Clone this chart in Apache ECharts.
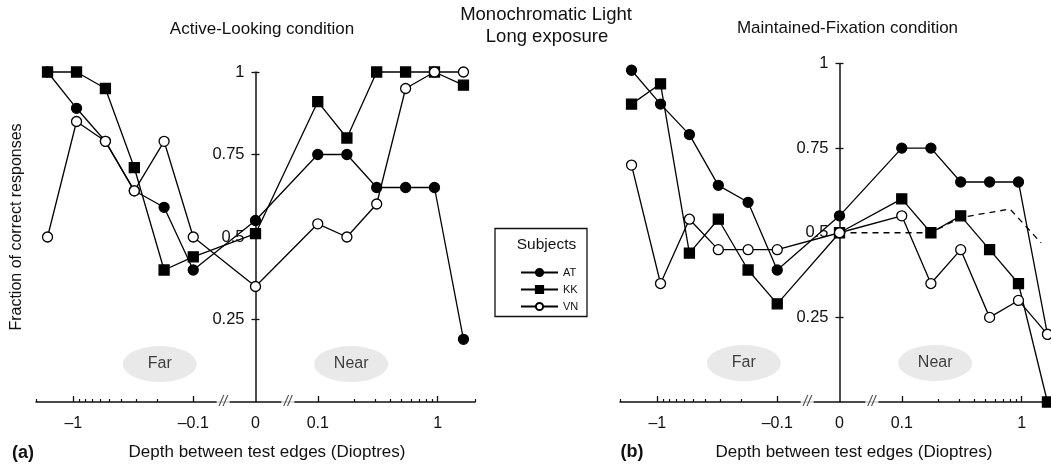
<!DOCTYPE html>
<html><head><meta charset="utf-8">
<script src="https://cdn.jsdelivr.net/npm/echarts@6/dist/echarts.min.js"></script>
<style>html,body{margin:0;padding:0;background:#fff}#c{width:1051px;height:466px}</style>
</head><body><div id="c"></div>
<script>
// ---------- data ----------
const DEPTHS = [-1.64, -0.94, -0.54, -0.31, -0.175, -0.1, 0, 0.1, 0.175, 0.31, 0.54, 0.94, 1.64];
const SUBJECTS = ['AT', 'KK', 'VN'];

const ACTIVE_AT = [1.00, 0.89, 0.79, 0.64, 0.59, 0.40, 0.55, 0.75, 0.75, 0.65, 0.65, 0.65, 0.19];
const ACTIVE_KK = [1.00, 1.00, 0.95, 0.71, 0.40, 0.44, 0.51, 0.91, 0.80, 1.00, 1.00, 1.00, 0.96];
const ACTIVE_VN = [0.50, 0.85, 0.79, 0.64, 0.79, 0.50, 0.35, 0.54, 0.50, 0.60, 0.95, 1.00, 1.00];

const FIXATION_AT = [0.98, 0.88, 0.79, 0.64, 0.59, 0.39, 0.55, 0.75, 0.75, 0.65, 0.65, 0.65, 0.20];
const FIXATION_KK = [0.88, 0.94, 0.44, 0.54, 0.39, 0.29, 0.50, 0.60, 0.50, 0.55, 0.45, 0.35, 0.00];
const FIXATION_VN = [0.70, 0.35, 0.54, 0.45, 0.45, 0.45, 0.50, 0.55, 0.35, 0.45, 0.25, 0.30, 0.20];

const DASHED_DEPTHS = [0, 0.175, 0.31, 0.8, 1.45];
const DASHED_FIXATION = [0.50, 0.50, 0.545, 0.57, 0.47];

const X_TICK_VALUES = [-1, -0.1, 0, 0.1, 1];
const X_TICK_LABELS = ['\u20131', '\u20130.1', '0', '0.1', '1'];
const X_MINOR_VALUES = [-0.9, -0.8, -0.7, -0.6, -0.5, -0.4, -0.3, -0.2, 0.2, 0.3, 0.4, 0.5, 0.6, 0.7, 0.8, 0.9];
const Y_TICK_VALUES = [0.25, 0.5, 0.75, 1];
const Y_TICK_LABELS = ['0.25', '0.5', '0.75', '1'];

const REGION_LABELS = ['Far', 'Near'];
const REGION_DEPTHS = [-0.19, 0.19];
const REGION_LEVEL = 0.115;

// ---------- axis transform: log decades with a break between 0 and ±0.1 ----------
const LIN_GAP = 0.519;           // drawn distance (in decades) between 0 and 0.1
const BREAK_FRACTION = 0.52;     // where the // mark sits between 0 and ±0.1
const T_MIN = -1.83, T_MAX = 1.83;
function tx(d) {
  if (d === 0) return 0;
  const s = Math.sign(d);
  return s * (LIN_GAP + Math.log10(Math.abs(d) / 0.1));
}
const labelMap = {};
X_TICK_VALUES.forEach((v, i) => { labelMap[tx(v).toFixed(4)] = X_TICK_LABELS[i]; });
const yLabelMap = {};
Y_TICK_VALUES.forEach((v, i) => { yLabelMap[v.toFixed(4)] = Y_TICK_LABELS[i]; });

const FONT = '"Liberation Sans", Arial, Helvetica, sans-serif';
const INK = '#111';

const GRIDS = [
  { left: 36, top: 72, width: 439, height: 330 },
  { left: 620, top: 63.5, width: 439, height: 338.5 }
];
// the vertical axis sits at depth 0, i.e. this far inside each grid
const Y_AXIS_INSET = GRIDS.map(g => g.width * (0 - T_MIN) / (T_MAX - T_MIN));

const xAxes = [], yAxes = [], series = [];
const PANELS = [
  { sets: [ACTIVE_AT, ACTIVE_KK, ACTIVE_VN] },
  { sets: [FIXATION_AT, FIXATION_KK, FIXATION_VN] }
];

const SYM = [
  { symbol: 'circle', size: 10, fill: '#000' },
  { symbol: 'rect', size: 10, fill: '#000' },
  { symbol: 'circle', size: 10, fill: '#fff' }
];

PANELS.forEach((p, pi) => {
  const xi = pi * 2, yi = pi * 2;
  xAxes.push({
    type: 'value', gridIndex: pi, min: T_MIN, max: T_MAX, position: 'bottom',
    axisLine: { onZero: false, lineStyle: { color: INK, width: 1.5 } },
    splitLine: { show: false },
    axisTick: { inside: true, length: 6, customValues: X_TICK_VALUES.filter(v => v !== 0).map(tx), lineStyle: { color: INK, width: 1.3 } },
    axisLabel: { customValues: X_TICK_VALUES.map(tx), formatter: v => labelMap[v.toFixed(4)] || '', fontSize: 16, fontFamily: FONT, color: INK, margin: 14 }
  });
  xAxes.push({
    type: 'value', gridIndex: pi, min: T_MIN, max: T_MAX, position: 'bottom',
    axisLine: { show: false, onZero: false },
    splitLine: { show: false },
    axisTick: { inside: true, length: 3, customValues: [T_MIN].concat(X_MINOR_VALUES.map(tx), [T_MAX]), lineStyle: { color: INK, width: 1.2 } },
    axisLabel: { show: false }
  });
  yAxes.push({
    type: 'value', gridIndex: pi, min: 0, max: 1, position: 'left', offset: -Y_AXIS_INSET[pi],
    axisLine: { onZero: false, lineStyle: { color: INK, width: 1.5 } },
    splitLine: { show: false },
    axisTick: { length: 4, customValues: Y_TICK_VALUES, lineStyle: { color: INK, width: 1.3 } },
    axisLabel: { customValues: Y_TICK_VALUES, formatter: v => yLabelMap[v.toFixed(4)] || '', fontSize: 16.5, fontFamily: FONT, color: INK, margin: 11 }
  });
  yAxes.push({
    type: 'value', gridIndex: pi, min: 0, max: 1, position: 'right', offset: -(GRIDS[pi].width - Y_AXIS_INSET[pi]),
    axisLine: { show: false, onZero: false },
    splitLine: { show: false },
    axisTick: { length: 4, customValues: Y_TICK_VALUES, lineStyle: { color: INK, width: 1.3 } },
    axisLabel: { show: false }
  });

  // Far / Near ellipses
  series.push({
    type: 'scatter', xAxisIndex: xi, yAxisIndex: yi, silent: true, z: 1,
    symbol: 'circle', symbolSize: [74, 36],
    itemStyle: { color: '#e3e3e3' },
    label: { show: true, position: 'inside', formatter: p => p.name, fontSize: 16, fontFamily: FONT, color: INK },
    data: REGION_DEPTHS.map((d, i) => ({ name: REGION_LABELS[i], value: [tx(d), REGION_LEVEL] }))
  });
  // axis break marks
  series.push({
    type: 'scatter', xAxisIndex: xi, yAxisIndex: yi, silent: true, z: 6,
    symbol: 'rect', symbolSize: [13, 8], clip: false,
    itemStyle: { color: '#fff' },
    label: { show: true, position: 'inside', formatter: '//', fontSize: 14, fontStyle: 'italic', fontFamily: FONT, color: INK },
    data: [[-LIN_GAP * BREAK_FRACTION, 0], [LIN_GAP * BREAK_FRACTION, 0]]
  });

  p.sets.forEach((vals, si) => {
    const s = SYM[si];
    series.push({
      name: SUBJECTS[si], type: 'line', xAxisIndex: xi, yAxisIndex: yi, z: 3 + si,
      clip: false, animation: false,
      symbol: s.symbol, symbolSize: s.size, showSymbol: true,
      lineStyle: { color: '#000', width: 1.3 },
      itemStyle: { color: s.fill, borderColor: '#000', borderWidth: 1.3 },
      data: DEPTHS.map((d, i) => [tx(d), vals[i]])
    });
  });
});

series.push({
  type: 'line', xAxisIndex: 2, yAxisIndex: 2, z: 2, symbol: 'none', clip: false,
  lineStyle: { color: '#000', width: 1.3, type: [6, 5] },
  data: DASHED_DEPTHS.map((d, i) => [tx(d), DASHED_FIXATION[i]])
});

const txt = (text, x, y, size, extra) => Object.assign({
  type: 'text', x, y, silent: true,
  style: Object.assign({ text, fill: INK, font: size + 'px ' + FONT, textAlign: 'center', textVerticalAlign: 'middle', align: 'center', verticalAlign: 'middle' }, (extra && extra.style) || {})
}, extra && extra.rotation !== undefined ? { rotation: extra.rotation } : {});

const option = {
  animation: false,
  backgroundColor: '#fff',
  grid: GRIDS.map(g => Object.assign({ outerBoundsMode: 'none', containLabel: false }, g)),
  xAxis: xAxes,
  yAxis: yAxes,
  series,
  legend: {
    data: SUBJECTS, orient: 'vertical', left: 520, top: 267, padding: 0,
    itemWidth: 37, itemHeight: 9, itemGap: 6, selectedMode: false,
    textStyle: { fontSize: 11, fontFamily: FONT, color: INK }
  },
  graphic: [
    txt('Active-Looking condition', 262, 29, 17),
    txt('Maintained-Fixation condition', 847.5, 28.5, 17),
    txt('Monochromatic Light', 546, 15, 18.5),
    txt('Long exposure', 547, 36.5, 18.5),
    txt('Depth between test edges (Dioptres)', 267, 452, 17),
    txt('Depth between test edges (Dioptres)', 854, 452, 17),
    txt('(a)', 23, 453, 18, { style: { font: 'bold 18px ' + FONT } }),
    txt('(b)', 632, 452, 18, { style: { font: 'bold 18px ' + FONT } }),
    txt('Fraction of correct responses', 17, 227, 16, { rotation: Math.PI / 2 }),
    { type: 'rect', silent: true, shape: { x: 495, y: 228.5, width: 92, height: 88 }, style: { fill: 'none', stroke: INK, lineWidth: 1.3 } },
    txt('Subjects', 546.5, 245, 15.5)
  ]
};

const chart = echarts.init(document.getElementById('c'), null, { renderer: 'canvas' });
chart.setOption(option);
</script>
</body></html>
